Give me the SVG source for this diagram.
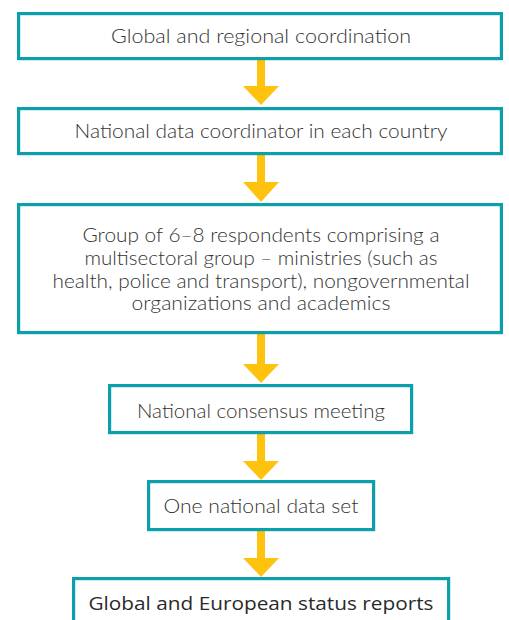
<svg xmlns="http://www.w3.org/2000/svg" width="509" height="620" viewBox="0 0 509 620">
<style>
.box{fill:#fff;stroke:#0ba0ac;stroke-width:3.2}
.t{font-family:Lato,"Open Sans","Liberation Sans",Arial,sans-serif;font-weight:300;font-size:19px;fill:#333;text-anchor:middle}
.t2{font-family:"Open Sans","Liberation Sans",sans-serif;font-size:19px;fill:#2a2a2a;text-anchor:middle}
.arr{fill:#ffc20e}
</style>
<rect width="509" height="620" fill="#fff"/>
<g id="connectors">
<polygon class="arr" points="257,60 265,60 265,86 279,86 261,105 243,86 257,86"/>
<polygon class="arr" points="257,155 265,155 265,182 279,182 261,202 243,182 257,182"/>
<polygon class="arr" points="257,334 265,334 265,364 279,364 261,383 243,364 257,364"/>
<polygon class="arr" points="257,434 265,434 265,461 279,461 261,480 243,461 257,461"/>
<polygon class="arr" points="257,531 265,531 265,558 279,558 261,577 243,558 257,558"/>
</g>
<g id="n1">
<rect class="box" x="18.6" y="13.6" width="482.8" height="45"/>
<text class="t" x="261" y="43" textLength="300" lengthAdjust="spacingAndGlyphs">Global and regional coordination</text>
</g>
<g id="n2">
<rect class="box" x="18.6" y="108.6" width="482.8" height="45"/>
<text class="t" x="261" y="138" textLength="373" lengthAdjust="spacingAndGlyphs">National data coordinator in each country</text>
</g>
<g id="n3">
<rect class="box" x="18.6" y="204.6" width="482.8" height="128"/>
<text class="t" x="261" y="242" textLength="357" lengthAdjust="spacingAndGlyphs">Group of 6–8 respondents comprising a</text>
<text class="t" x="261" y="265" textLength="353" lengthAdjust="spacingAndGlyphs">multisectoral group – ministries (such as</text>
<text class="t" x="261" y="288" textLength="417" lengthAdjust="spacingAndGlyphs">health, police and transport), nongovernmental</text>
<text class="t" x="261" y="310" textLength="259" lengthAdjust="spacingAndGlyphs">organizations and academics</text>
</g>
<g id="n4">
<rect class="box" x="109.6" y="385.6" width="302" height="47"/>
<text class="t" x="261" y="418" textLength="248" lengthAdjust="spacingAndGlyphs">National consensus meeting</text>
</g>
<g id="n5">
<rect class="box" x="148.6" y="481.6" width="225" height="48"/>
<text class="t" x="261" y="513" textLength="195" lengthAdjust="spacingAndGlyphs">One national data set</text>
</g>
<g id="n6">
<rect class="box" x="73.6" y="578.6" width="375" height="60"/>
<text class="t2" x="261" y="610" textLength="345" lengthAdjust="spacingAndGlyphs">Global and European status reports</text>
</g>
</svg>
